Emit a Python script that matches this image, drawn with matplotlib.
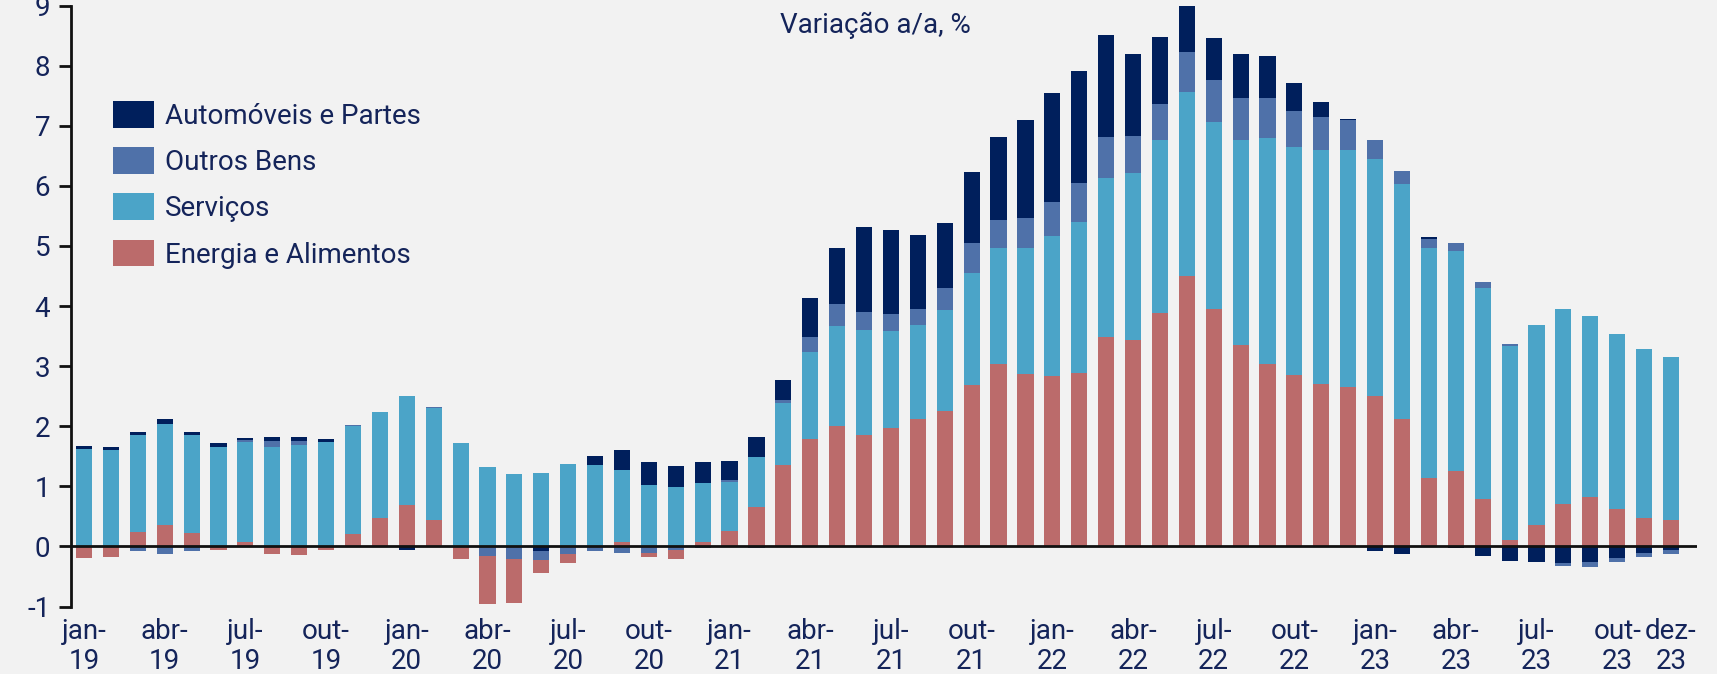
import matplotlib
matplotlib.use("Agg")
import matplotlib.pyplot as plt
import numpy as np

plt.rcParams['font.family'] = ['Roboto', 'DejaVu Sans']
plt.rcParams['axes.unicode_minus'] = False

# meses jan-19 .. dez-23
meses = ['jan', 'fev', 'mar', 'abr', 'mai', 'jun', 'jul', 'ago', 'set', 'out', 'nov', 'dez']
anos = ['19', '20', '21', '22', '23']

energia = [-0.19, -0.17, 0.24, 0.36, 0.22, -0.05, 0.07, -0.12, -0.14, -0.05, 0.20, 0.47,
           0.69, 0.44, -0.20, -0.80, -0.74, -0.21, -0.16, 0.00, 0.07, -0.08, -0.16, 0.08,
           0.25, 0.65, 1.35, 1.79, 2.00, 1.86, 1.98, 2.12, 2.25, 2.69, 3.04, 2.87,
           2.84, 2.89, 3.48, 3.44, 3.88, 4.50, 3.96, 3.36, 3.04, 2.86, 2.71, 2.66,
           2.51, 2.12, 1.14, 1.26, 0.79, 0.11, 0.36, 0.70, 0.82, 0.62, 0.47, 0.44]
servicos = [1.62, 1.61, 1.62, 1.68, 1.64, 1.66, 1.67, 1.66, 1.69, 1.74, 1.80, 1.76,
            1.81, 1.87, 1.72, 1.33, 1.21, 1.23, 1.38, 1.36, 1.20, 1.03, 0.99, 0.98,
            0.83, 0.84, 1.04, 1.45, 1.67, 1.74, 1.61, 1.56, 1.68, 1.86, 1.92, 2.09,
            2.33, 2.51, 2.65, 2.77, 2.88, 3.06, 3.10, 3.40, 3.75, 3.78, 3.88, 3.94,
            3.94, 3.91, 3.83, 3.65, 3.51, 3.23, 3.33, 3.25, 3.01, 2.92, 2.82, 2.71]
outros = [0.00, 0.00, -0.07, -0.12, -0.08, 0.00, 0.03, 0.10, 0.06, 0.00, 0.02, 0.01,
          0.00, 0.01, 0.00, -0.16, -0.20, -0.15, -0.12, -0.07, -0.10, -0.10, -0.05, -0.03,
          0.02, -0.02, 0.05, 0.25, 0.37, 0.30, 0.28, 0.28, 0.37, 0.50, 0.47, 0.50,
          0.57, 0.64, 0.68, 0.62, 0.60, 0.67, 0.70, 0.70, 0.68, 0.61, 0.56, 0.49,
          0.32, 0.21, 0.14, 0.14, 0.10, 0.03, 0.00, -0.06, -0.09, -0.06, -0.07, -0.06]
automoveis = [0.05, 0.05, 0.05, 0.08, 0.05, 0.06, 0.04, 0.06, 0.07, 0.05, 0.00, 0.00,
              -0.05, 0.00, 0.00, 0.00, 0.00, -0.08, 0.00, 0.15, 0.34, 0.38, 0.35, 0.35,
              0.32, 0.34, 0.33, 0.65, 0.93, 1.42, 1.39, 1.23, 1.08, 1.18, 1.38, 1.63,
              1.80, 1.87, 1.70, 1.36, 1.12, 0.76, 0.70, 0.74, 0.69, 0.46, 0.25, 0.02,
              -0.08, -0.12, 0.04, -0.03, -0.15, -0.24, -0.25, -0.27, -0.25, -0.19, -0.11, -0.06]

series = [
    ('Energia e Alimentos', energia, '#bb6b6b'),
    ('Serviços', servicos, '#4ba4c8'),
    ('Outros Bens', outros, '#4f71a9'),
    ('Automóveis e Partes', automoveis, '#001f5c'),
]

texto = '#14245a'
fundo = '#f2f2f2'

fig = plt.figure(figsize=(17.17, 6.74), dpi=100, facecolor=fundo)
ax = fig.add_axes([0.0414, 0.10, 0.947, 0.8917], facecolor=fundo)

x = np.arange(len(energia))
pos = np.zeros(len(x))
handles = {}
for nome, vals, cor in series:
    v = np.array(vals)
    p = np.where(v > 0, v, 0)
    b = ax.bar(x, p, 0.6, bottom=pos, color=cor, label=nome)
    pos += p
    handles[nome] = b

# negativos empilhados a partir do zero na ordem inversa
neg = np.zeros(len(x))
for nome, vals, cor in reversed(series):
    v = np.array(vals)
    n = np.where(v < 0, v, 0)
    ax.bar(x, n, 0.6, bottom=neg, color=cor)
    neg += n

ax.axhline(0, color='#111111', lw=2, zorder=5)

ax.set_xlim(-0.48, 59.97)
ax.set_ylim(-1, 9)
ax.set_yticks(range(-1, 10))
ax.tick_params(axis='y', direction='out', length=9, width=2, colors='#111111',
               labelcolor=texto, labelsize=20, pad=6)

ticks = list(range(0, 60, 3)) + [59]
labels = [meses[i % 12] + '-\n' + anos[i // 12] for i in ticks]
ax.set_xticks(ticks)
ax.set_xticklabels(labels, color=texto, fontsize=20, linespacing=1.15)
ax.tick_params(axis='x', length=0, pad=8)

for s in ['top', 'right', 'bottom']:
    ax.spines[s].set_visible(False)
ax.spines['left'].set_linewidth(2)
ax.spines['left'].set_color('#111111')

ordem = ['Automóveis e Partes', 'Outros Bens', 'Serviços', 'Energia e Alimentos']
leg = ax.legend([handles[n] for n in ordem], ordem, loc='upper left',
                bbox_to_anchor=(0.0104, 0.883), frameon=False, fontsize=20,
                handlelength=1.46, handleheight=1.1, labelspacing=0.63, handletextpad=0.4)
for t in leg.get_texts():
    t.set_color(texto)

fig.text(0.51, 0.962, 'Variação a/a, %', ha='center', va='center', color=texto, fontsize=20)

fig.savefig('out.png', dpi=100, facecolor=fundo)
